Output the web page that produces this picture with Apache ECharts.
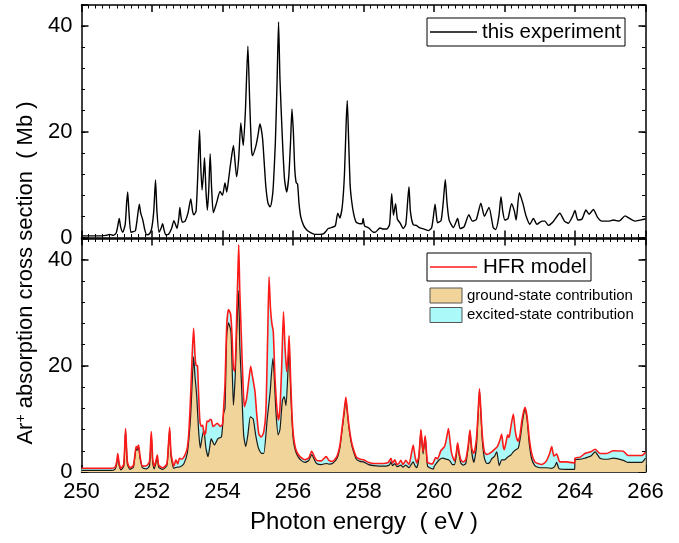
<!DOCTYPE html>
<html><head><meta charset="utf-8">
<script src="https://cdn.jsdelivr.net/npm/echarts@6/dist/echarts.min.js"></script>
<style>html,body{margin:0;padding:0;background:#fff}#c{width:679px;height:543px}</style>
</head><body><div id="c"></div>
<script>
// ---- data (photon energy in eV, cross section in Mb) ----
const expX = [250.00,250.40,250.70,250.80,250.90,250.98,251.03,251.07,251.11,251.17,251.24,251.28,251.31,251.34,251.40,251.47,251.53,251.58,251.64,251.68,251.74,251.79,251.85,251.93,251.99,252.05,252.10,252.14,252.20,252.26,252.30,252.34,252.39,252.47,252.56,252.62,252.67,252.71,252.76,252.79,252.82,252.86,252.94,253.02,253.10,253.15,253.19,253.25,253.30,253.35,253.38,253.42,253.46,253.49,253.53,253.57,253.61,253.65,253.69,253.74,253.83,253.93,254.00,254.07,254.12,254.18,254.23,254.31,254.36,254.40,254.46,254.52,254.56,254.59,254.65,254.72,254.77,254.82,254.85,254.95,255.01,255.06,255.10,255.14,255.19,255.23,255.29,255.35,255.40,255.44,255.50,255.55,255.59,255.63,255.70,255.76,255.82,255.88,255.93,255.97,256.01,256.05,256.09,256.13,256.17,256.22,256.30,256.39,256.50,256.62,256.75,256.86,256.95,257.00,257.10,257.20,257.27,257.33,257.40,257.46,257.51,257.54,257.58,257.62,257.66,257.72,257.79,257.90,257.96,257.99,258.03,258.15,258.28,258.33,258.47,258.56,258.66,258.74,258.80,258.85,258.91,258.96,259.04,259.13,259.20,259.26,259.29,259.33,259.41,259.50,259.60,259.72,259.84,259.93,259.98,260.03,260.07,260.10,260.20,260.26,260.32,260.37,260.43,260.55,260.67,260.74,260.85,260.99,261.09,261.20,261.33,261.43,261.56,261.68,261.75,261.84,261.90,261.95,262.01,262.10,262.20,262.28,262.33,262.42,262.52,262.61,262.72,262.82,262.92,263.06,263.15,263.24,263.38,263.57,263.70,263.81,263.93,264.00,264.08,264.20,264.31,264.40,264.52,264.64,264.76,264.95,265.09,265.25,265.42,265.55,265.70,265.85,266.00];
const expY = [0.3,0.3,0.4,0.6,0.4,0.8,2.2,3.6,2.0,1.0,2.5,6.5,8.6,5.5,1.0,1.1,1.3,3.5,6.3,4.6,3.3,1.6,0.5,0.7,1.7,5.0,10.9,5.0,1.0,1.8,2.6,1.5,0.5,0.6,1.8,3.2,2.4,1.7,3.6,5.7,4.0,2.9,3.1,4.6,7.3,5.0,4.3,5.0,12.0,20.3,14.0,9.0,12.0,15.1,9.0,5.2,9.0,15.8,9.5,4.7,6.5,8.7,8.0,10.3,8.6,11.4,14.0,17.4,14.0,11.5,15.0,21.7,19.0,17.4,24.0,36.2,26.0,17.0,15.5,17.4,19.5,21.5,20.5,18.5,13.5,9.6,6.5,5.8,7.0,9.6,18.0,30.0,40.8,30.0,18.5,11.0,8.6,11.5,18.0,24.3,20.0,13.0,10.4,10.1,6.5,3.9,2.3,1.4,0.9,0.6,0.6,0.7,1.3,1.7,1.9,2.2,4.6,3.7,6.0,12.0,22.0,25.9,18.0,10.0,7.1,4.5,2.9,2.6,2.6,3.6,2.2,1.8,1.0,1.0,1.8,1.6,1.6,2.5,8.3,4.2,6.4,3.5,2.7,1.7,2.5,7.5,9.6,5.0,2.4,2.3,1.8,1.6,1.3,1.8,3.8,6.3,4.0,2.8,3.2,6.5,11.0,6.5,3.3,1.9,3.6,1.7,2.0,4.3,3.1,3.4,6.5,4.0,5.7,1.9,1.5,4.0,7.7,5.0,3.3,3.6,6.4,5.0,3.3,8.5,6.5,4.1,2.5,3.6,2.5,3.1,3.1,2.3,3.0,4.6,3.1,2.7,4.0,5.1,3.3,3.5,5.2,4.4,5.3,3.8,3.1,3.1,3.3,3.1,4.1,3.6,3.1,3.3,3.5];

const hfrX = [250.00,250.80,250.95,251.00,251.03,251.07,251.12,251.20,251.25,251.30,251.37,251.47,251.52,251.55,251.58,251.62,251.66,251.73,251.85,251.93,251.98,252.02,252.06,252.10,252.15,252.19,252.30,252.42,252.46,252.50,252.54,252.62,252.68,252.73,252.78,252.84,252.92,253.00,253.05,253.10,253.14,253.18,253.22,253.25,253.29,253.32,253.36,253.40,253.44,253.48,253.52,253.56,253.60,253.65,253.68,253.73,253.78,253.85,253.94,254.00,254.04,254.07,254.12,254.17,254.23,254.27,254.31,254.35,254.40,254.43,254.46,254.49,254.54,254.58,254.62,254.68,254.75,254.80,254.85,254.92,254.97,255.03,255.10,255.17,255.23,255.28,255.32,255.36,255.40,255.44,255.49,255.55,255.59,255.63,255.68,255.73,255.77,255.82,255.86,255.89,255.93,255.97,256.01,256.07,256.15,256.25,256.34,256.45,256.53,256.60,256.67,256.80,256.94,257.02,257.12,257.25,257.33,257.38,257.45,257.50,257.55,257.59,257.65,257.71,257.80,257.90,258.00,258.15,258.30,258.56,258.70,258.75,258.78,258.82,258.86,258.89,258.95,259.00,259.06,259.12,259.20,259.29,259.36,259.41,259.46,259.51,259.57,259.63,259.69,259.75,259.79,259.82,259.95,260.05,260.10,260.20,260.30,260.36,260.41,260.46,260.50,260.58,260.63,260.67,260.71,260.76,260.83,260.90,260.97,261.02,261.07,261.13,261.20,261.25,261.29,261.33,261.37,261.43,261.50,261.64,261.72,261.80,261.87,261.92,261.96,261.99,262.05,262.09,262.13,262.18,262.25,262.30,262.34,262.39,262.44,262.50,262.58,262.64,262.70,262.77,262.86,262.95,263.05,263.18,263.28,263.34,263.40,263.48,263.57,263.75,263.99,264.00,264.15,264.28,264.45,264.57,264.71,264.90,265.09,265.37,265.51,265.89,266.00];
const hfrY = [0.7,0.7,0.9,2.0,3.5,1.5,0.7,1.5,8.2,2.0,0.8,1.2,3.5,4.8,4.5,5.1,3.0,1.1,1.2,2.0,7.6,2.5,1.1,1.8,3.2,1.3,0.8,1.5,4.5,8.4,3.5,1.1,2.3,1.5,2.6,2.4,3.0,4.5,8.0,15.0,22.0,27.1,22.0,20.1,20.0,15.0,9.5,8.6,8.8,7.0,7.3,9.6,9.5,9.9,9.9,8.6,8.8,9.2,8.6,9.0,12.9,16.4,27.6,30.6,29.8,25.8,19.5,19.0,28.9,36.0,42.8,34.2,24.5,17.0,12.3,13.7,17.5,19.9,18.0,15.2,11.0,7.2,6.6,7.5,11.4,25.0,36.8,31.0,28.0,26.5,17.7,11.5,9.8,12.0,20.0,30.2,24.0,18.9,22.0,25.7,18.0,11.0,7.0,4.5,3.3,2.6,2.3,2.7,3.9,3.0,2.2,2.1,2.9,2.2,2.0,3.0,5.0,7.6,11.5,14.1,11.0,8.6,6.0,4.4,2.8,2.4,2.3,1.8,1.6,1.6,1.8,2.3,2.6,1.7,2.0,2.3,1.4,1.6,2.2,1.4,2.2,1.4,3.5,5.1,3.0,1.7,3.0,8.0,3.8,6.8,3.5,1.8,1.5,2.7,2.5,4.1,4.8,6.5,8.2,5.5,3.5,2.1,3.5,5.5,3.8,2.3,1.9,2.3,5.0,7.9,4.5,3.5,6.0,11.0,15.7,11.5,7.0,3.8,3.3,3.8,4.3,4.8,6.0,7.1,5.0,4.2,5.8,7.0,6.5,8.5,10.9,8.0,6.5,5.8,7.0,10.0,12.2,10.5,6.5,3.5,1.9,1.6,1.4,2.0,3.5,4.8,3.0,3.4,1.9,1.9,1.7,2.6,2.8,3.5,3.8,4.3,3.5,3.5,4.0,3.9,3.1,3.1,3.7];

const gsX = [250.00,250.80,250.95,251.00,251.03,251.07,251.12,251.20,251.25,251.30,251.37,251.47,251.52,251.55,251.58,251.62,251.66,251.73,251.85,251.93,251.98,252.02,252.06,252.10,252.15,252.19,252.30,252.42,252.46,252.50,252.54,252.62,252.70,252.80,252.90,253.00,253.05,253.10,253.14,253.18,253.22,253.27,253.32,253.37,253.42,253.47,253.53,253.59,253.64,253.68,253.77,253.87,253.97,254.03,254.07,254.12,254.17,254.24,254.28,254.31,254.36,254.40,254.46,254.49,254.54,254.60,254.66,254.72,254.79,254.87,254.94,255.02,255.11,255.17,255.27,255.35,255.43,255.46,255.52,255.58,255.63,255.70,255.75,255.80,255.85,255.89,255.93,255.97,256.01,256.07,256.15,256.25,256.34,256.45,256.53,256.60,256.67,256.80,256.94,257.02,257.12,257.25,257.33,257.38,257.45,257.50,257.55,257.59,257.65,257.71,257.80,257.90,258.00,258.15,258.30,258.56,258.70,258.75,258.78,258.82,258.86,258.89,258.95,259.00,259.06,259.12,259.20,259.29,259.36,259.41,259.46,259.51,259.57,259.63,259.69,259.75,259.79,259.82,259.95,259.99,260.00,260.05,260.15,260.25,260.35,260.41,260.46,260.52,260.58,260.63,260.67,260.71,260.76,260.83,260.90,260.97,261.02,261.07,261.13,261.20,261.25,261.29,261.33,261.37,261.43,261.50,261.58,261.64,261.72,261.78,261.85,261.92,262.00,262.09,262.18,262.25,262.32,262.39,262.45,262.51,262.58,262.64,262.70,262.77,262.86,262.95,263.05,263.18,263.34,263.42,263.48,263.55,263.75,263.99,264.00,264.15,264.28,264.45,264.57,264.71,264.90,265.09,265.37,265.51,265.89,266.00];
const gsY = [0.3,0.3,0.5,1.6,3.1,1.2,0.4,1.2,7.8,1.6,0.5,0.9,3.2,4.4,4.1,4.7,2.6,0.8,0.6,1.2,7.0,1.8,0.6,1.4,2.8,0.9,0.5,1.2,4.2,8.0,3.0,0.7,0.9,1.0,1.5,3.5,6.5,11.0,17.0,21.7,18.0,14.2,8.0,4.5,6.5,7.9,4.5,2.9,4.8,6.3,5.1,6.3,6.6,11.0,12.0,25.8,28.1,26.4,18.2,12.6,18.0,25.8,34.2,23.9,16.4,7.0,4.8,7.0,10.4,10.0,7.0,4.5,3.5,3.5,10.1,15.0,21.4,19.0,11.0,7.0,8.0,13.5,14.2,12.5,18.0,23.9,16.0,10.0,6.0,4.0,2.8,2.1,1.8,2.2,3.3,2.4,1.6,1.4,1.6,1.5,1.6,2.6,4.6,7.2,11.0,13.6,10.6,8.2,5.6,4.0,2.4,2.0,1.9,1.4,1.2,1.1,1.2,1.5,1.9,1.2,1.4,1.6,1.0,1.1,1.3,0.9,1.3,0.8,1.5,1.9,1.2,0.8,2.6,7.8,3.4,6.6,3.1,1.1,0.6,0.6,1.0,1.5,2.3,2.6,2.4,2.3,2.0,1.4,1.4,3.0,5.3,3.4,1.7,1.3,1.6,4.6,7.7,3.8,1.8,4.5,10.5,15.5,11.0,6.0,2.6,1.6,1.8,2.5,3.0,3.8,1.2,2.3,2.3,2.8,3.2,3.8,4.2,4.5,6.5,9.5,12.0,10.0,5.5,2.5,1.2,0.9,0.8,0.8,0.7,1.0,1.8,0.6,0.5,0.5,2.3,2.4,2.6,3.0,3.8,2.6,2.4,2.6,2.2,1.8,1.8,2.6];

const xTicks = [250,252,254,256,258,260,262,264,266];
const yTicks = [0,20,40];

// ---- helpers ----
const zip = (xs, ys) => xs.map((x, i) => [x, ys[i]]);
const FONT = 'Liberation Sans, Arial, Helvetica, sans-serif';
const AX = {color:'#000', width:1.5};

function xAx(gi, pos, labels) {
  return {
    type:'value', gridIndex:gi, position:pos, min:xTicks[0], max:xTicks[xTicks.length-1],
    interval:xTicks[1]-xTicks[0],
    axisLine:{show:true, onZero:false, lineStyle:AX},
    axisTick:{show:true, inside:true, length:7, lineStyle:AX},
    minorTick:{show:true, splitNumber:10, length:3.5, lineStyle:{color:'#000', width:1}},
    splitLine:{show:false}, minorSplitLine:{show:false},
    axisLabel:{show:labels, color:'#000', fontSize:22, fontFamily:FONT, margin:9}
  };
}
function yAx(gi, pos, major) {
  return {
    type:'value', gridIndex:gi, position:pos, min:0, max:44,
    interval: major ? yTicks[1]-yTicks[0] : 4,
    axisLine:{show:major, lineStyle:AX},
    axisTick:{show:true, inside:true, length: major ? 7 : 3.5, lineStyle: major ? AX : {color:'#000', width:1}},
    splitLine:{show:false},
    axisLabel:{show: major && pos==='left', color:'#000', fontSize:22, fontFamily:FONT, margin:9,
      formatter: v => yTicks.includes(v) ? String(v) : ''}
  };
}

const chart = echarts.init(document.getElementById('c'), null, {renderer:'canvas'});
chart.setOption({
  animation:false,
  backgroundColor:'#fff',
  grid:[
    {left:81.5, top:5, width:564, height:232.5},
    {left:81.5, top:238.5, width:564, height:233.5}
  ],
  xAxis:[xAx(0,'bottom',false), xAx(0,'top',false), xAx(1,'bottom',true), xAx(1,'top',false)],
  yAxis:[yAx(0,'left',true), yAx(0,'left',false), yAx(0,'right',true), yAx(0,'right',false),
         yAx(1,'left',true), yAx(1,'left',false), yAx(1,'right',true), yAx(1,'right',false)],
  series:[
    {type:'line', name:'this experiment', xAxisIndex:0, yAxisIndex:0, data:zip(expX, expY),
     symbol:'none', smooth:0.2, lineStyle:{color:'#000', width:1.4}, z:3},
    {type:'line', name:'excited-state contribution', xAxisIndex:2, yAxisIndex:4, data:zip(hfrX, hfrY),
     symbol:'none', smooth:0.2, lineStyle:{width:0}, areaStyle:{color:'#abf9f9', opacity:1}, z:1},
    {type:'line', name:'ground-state contribution', xAxisIndex:2, yAxisIndex:4, data:zip(gsX, gsY),
     symbol:'none', smooth:0.2, lineStyle:{color:'#1a1a1a', width:1.2}, areaStyle:{color:'#f1d49a', opacity:1}, z:2},
    {type:'line', name:'HFR model', xAxisIndex:2, yAxisIndex:4, data:zip(hfrX, hfrY),
     symbol:'none', smooth:0.2, lineStyle:{color:'#ff1a1a', width:1.6}, z:3}
  ],
  graphic:[
    // y title
    {type:'text', x:26, y:273, rotation:Math.PI/2, z:10,
     style:{text:'{a|Ar}{s|+}{a| absorption cross section  ( Mb )}', textAlign:'center', textVerticalAlign:'middle',
       fill:'#000', rich:{a:{fontSize:22, fontFamily:FONT, fill:'#000'}, s:{fontSize:14, fontFamily:FONT, fill:'#000', verticalAlign:'top', padding:[0,0,10,0]}}}},
    // x title
    {type:'text', x:364, y:522, z:10,
     style:{text:'Photon energy  ( eV )', font:'24px ' + FONT, fill:'#000', textAlign:'center', textVerticalAlign:'middle'}},
    // top legend
    {type:'rect', shape:{x:427, y:18, width:198, height:28}, style:{fill:'#fff', stroke:'#000', lineWidth:1}, z:10},
    {type:'line', shape:{x1:430, y1:32, x2:477, y2:32}, style:{stroke:'#000', lineWidth:1.4}, z:11},
    {type:'text', x:482, y:32, z:11, style:{text:'this experiment', font:'20.5px ' + FONT, fill:'#000', textVerticalAlign:'middle'}},
    // bottom legend
    {type:'rect', shape:{x:427, y:253, width:164, height:28}, style:{fill:'#fff', stroke:'#000', lineWidth:1}, z:10},
    {type:'line', shape:{x1:430, y1:267, x2:477, y2:267}, style:{stroke:'#ff1a1a', lineWidth:1.6}, z:11},
    {type:'text', x:483, y:267, z:11, style:{text:'HFR model', font:'20.5px ' + FONT, fill:'#000', textVerticalAlign:'middle'}},
    {type:'rect', shape:{x:430, y:288, width:32, height:15}, style:{fill:'#f1d49a', stroke:'#555', lineWidth:1}, z:10},
    {type:'text', x:467, y:296, z:11, style:{text:'ground-state contribution', font:'15px ' + FONT, fill:'#000', textVerticalAlign:'middle'}},
    {type:'rect', shape:{x:430, y:307.5, width:32, height:15}, style:{fill:'#abf9f9', stroke:'#555', lineWidth:1}, z:10},
    {type:'text', x:467, y:315, z:11, style:{text:'excited-state contribution', font:'15px ' + FONT, fill:'#000', textVerticalAlign:'middle'}}
  ]
});
</script></body></html>
